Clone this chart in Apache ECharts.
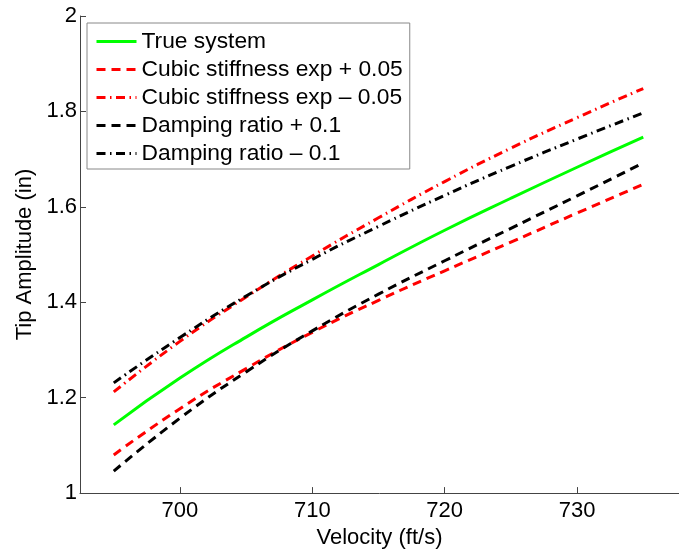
<!DOCTYPE html>
<html>
<head>
<meta charset="utf-8">
<script src="https://cdn.jsdelivr.net/npm/echarts@6/dist/echarts.min.js"></script>
<style>
  html, body { margin: 0; padding: 0; background: #fff; }
  #chart { width: 679px; height: 554px; }
</style>
</head>
<body>
<div id="chart"></div>
<script>
// Flutter tip amplitude versus airspeed, nominal model and parameter perturbations
const velocity = [695, 700, 705, 710, 715, 720, 725, 730, 735];

const trueSystem     = [1.143, 1.241, 1.327, 1.405, 1.479, 1.551, 1.618, 1.683, 1.746];
const cubicPlus      = [1.080, 1.177, 1.261, 1.337, 1.404, 1.466, 1.526, 1.587, 1.647];
const cubicMinus     = [1.212, 1.318, 1.411, 1.497, 1.577, 1.653, 1.723, 1.787, 1.848];
const dampingPlus    = [1.046, 1.157, 1.254, 1.340, 1.417, 1.487, 1.555, 1.623, 1.692];
const dampingMinus   = [1.231, 1.326, 1.413, 1.490, 1.559, 1.624, 1.685, 1.742, 1.797];

const xTicks = [700, 710, 720, 730];

const seriesNames = [
  'True system',
  'Cubic stiffness exp + 0.05',
  'Cubic stiffness exp \u2013 0.05',
  'Damping ratio + 0.1',
  'Damping ratio \u2013 0.1'
];

const FONT = '"Liberation Sans", Arial, Helvetica, sans-serif';
const AXIS_COLOR = '#444';

function pairs(ys) {
  return velocity.map((v, i) => [v, ys[i]]);
}

const dash = [9, 6];
const dashDot = [9, 4.5, 1.5, 4.5];

function lineSeries(name, ys, color, type) {
  return {
    name: name,
    type: 'line',
    data: pairs(ys),
    symbol: 'none',
    smooth: 0.5,
    lineStyle: { color: color, width: 3, type: type, cap: 'butt' },
    itemStyle: { color: color },
    emphasis: { disabled: true },
    animation: false
  };
}

const chart = echarts.init(document.getElementById('chart'), null, { renderer: 'canvas' });

chart.setOption({
  backgroundColor: '#ffffff',
  animation: false,
  grid: { left: 80, top: 16, right: -13, bottom: 57, containLabel: false },
  xAxis: {
    type: 'value',
    min: 692.45,
    max: 737.7,
    name: 'Velocity (ft/s)',
    nameLocation: 'middle',
    nameGap: 30,
    nameTextStyle: { fontFamily: FONT, fontSize: 22, color: '#000' },
    axisLine: { show: true, onZero: false, lineStyle: { color: AXIS_COLOR, width: 1 } },
    axisTick: { show: true, inside: true, length: 6, customValues: xTicks, lineStyle: { color: AXIS_COLOR } },
    axisLabel: { customValues: xTicks, margin: 7, fontFamily: FONT, fontSize: 22, color: '#000' },
    splitLine: { show: false }
  },
  yAxis: {
    type: 'value',
    min: 1,
    max: 2,
    interval: 0.2,
    name: 'Tip Amplitude (in)',
    nameLocation: 'middle',
    nameRotate: 90,
    nameGap: 42,
    nameTextStyle: { fontFamily: FONT, fontSize: 22, color: '#000' },
    axisLine: { show: true, onZero: false, lineStyle: { color: AXIS_COLOR, width: 1 } },
    axisTick: { show: true, inside: true, length: 6, lineStyle: { color: AXIS_COLOR } },
    axisLabel: { margin: 3, fontFamily: FONT, fontSize: 22, color: '#000' },
    splitLine: { show: false }
  },
  legend: {
    orient: 'vertical',
    left: 87,
    top: 23,
    padding: [7, 7, 4, 8],
    itemWidth: 40,
    itemHeight: 22,
    itemGap: 5,
    backgroundColor: '#ffffff',
    borderColor: '#888',
    borderWidth: 1,
    borderRadius: 0,
    selectedMode: false,
    itemStyle: { opacity: 0 },
    lineStyle: { width: 3 },
    data: seriesNames,
    textStyle: { fontFamily: FONT, fontSize: 22.8, color: '#000' }
  },
  series: [
    lineSeries(seriesNames[0], trueSystem, '#00ff00', 'solid'),
    lineSeries(seriesNames[1], cubicPlus, '#ff0000', dash),
    lineSeries(seriesNames[2], cubicMinus, '#ff0000', dashDot),
    lineSeries(seriesNames[3], dampingPlus, '#000000', dash),
    lineSeries(seriesNames[4], dampingMinus, '#000000', dashDot)
  ]
});
</script>
</body>
</html>
